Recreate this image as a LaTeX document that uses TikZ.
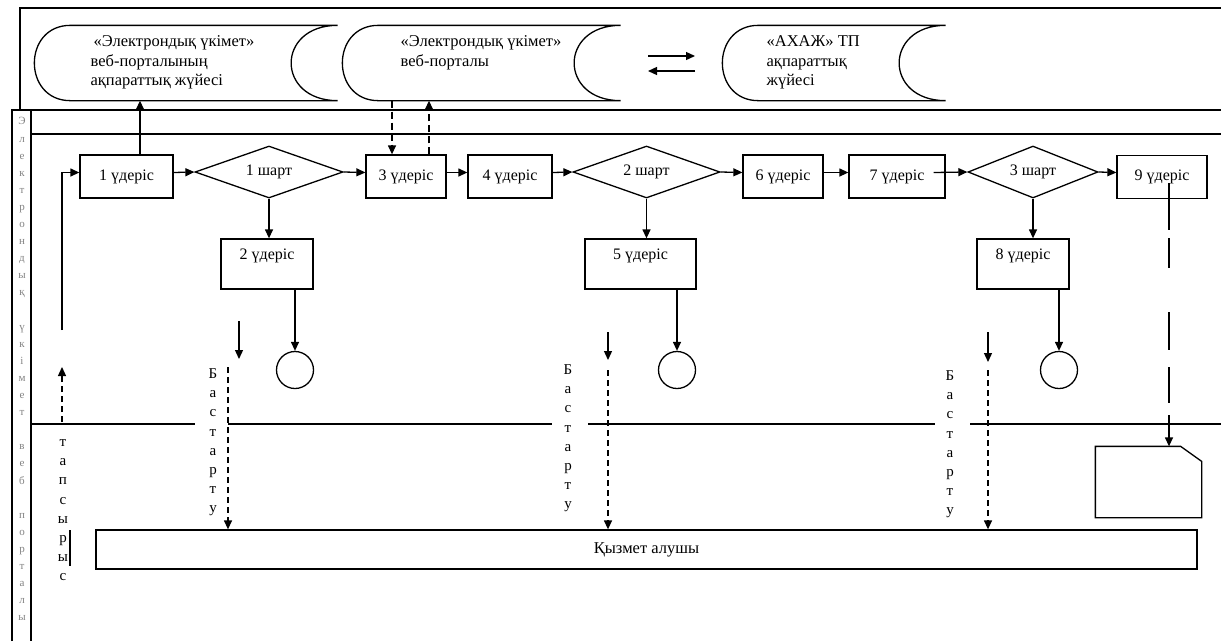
\documentclass[tikz,border=0pt]{standalone}
\usepackage{fontspec}
\setmainfont{Liberation Serif}
\usepackage{xcolor}
\usepackage{tikz}
\usetikzlibrary{calc, shapes.geometric, arrows.meta}

\definecolor{lanegray}{RGB}{130,130,130}

\tikzset{
	process/.style = {draw, rectangle, minimum height = 43pt, inner sep = 2pt, font = \fontsize{16}{18}\selectfont},
	subprocess/.style = {process, minimum height = 50pt, text depth = 20pt},
	condition/.style = {draw, diamond, aspect = 3, minimum height = 52pt, inner sep = 1pt, font = \fontsize{16}{18}\selectfont},
	finish/.style = {draw, circle, minimum size = 37pt, inner sep = 0pt},
	letters/.style = {align = center, inner sep = 0pt, font = \fontsize{15}{19.2}\selectfont},
	storage/.style = {minimum height = 74pt, inner sep = 0pt},
	doc text/.style = {align = left, inner sep = 0pt, font = \fontsize{16.5}{19.5}\selectfont},
}

\newcommand{\storeshape}[1]{%
	\draw ([xshift = 36pt]#1.north west) -- (#1.north east)
		.. controls ([xshift = -62pt]#1.north east) and ([xshift = -62pt]#1.south east) .. (#1.south east)
		-- ([xshift = 36pt]#1.south west)
		.. controls ([xshift = -12pt]#1.south west) and ([xshift = -12pt]#1.north west) .. ([xshift = 36pt]#1.north west) -- cycle;}

\begin{document}
\begin{tikzpicture}[x = 1pt, y = -1pt, line width = 1.3pt, > = {Triangle[length = 9pt, width = 8pt]}]
		\useasboundingbox (0,0) rectangle (1221,641);

		\draw (20,110) -- (20,8) -- (1221,8);
		\draw (12,641) -- (12,110) -- (1221,110);
		\draw (31,110) -- (31,641);
		\draw (31,134) -- (1221,134);
		\draw (31,424) -- (195,424) (228,424) -- (552,424) (588,424) -- (935,424) (970,424) -- (1221,424);

		\node[align = center, inner sep = 0pt, text = lanegray, font = \fontsize{11}{17.1}\selectfont, anchor = north] (lane name) at (22,117) {Э\\л\\е\\к\\т\\р\\о\\н\\д\\ы\\қ\\~\\ү\\к\\і\\м\\е\\т\\~\\в\\е\\б\\~\\п\\о\\р\\т\\а\\л\\ы};

		\node[storage, minimum width = 302pt] (system info) at (186,63) {};
		\node[storage, minimum width = 277pt] (portal) at (481.5,63) {};
		\node[storage, minimum width = 222pt] (registry) at (834,63) {};
		\storeshape{system info}
		\storeshape{portal}
		\storeshape{registry}
		\node[doc text, anchor = north west] (system info text) at (90,35) {\hspace{3pt}«Электрондық үкімет»\\веб-порталының\\ақпараттық жүйесі};
		\node[doc text, anchor = north west] (portal text) at (400,35) {«Электрондық үкімет»\\веб-порталы};
		\node[doc text, anchor = north west] (registry text) at (766,35) {«АХАЖ» ТП\\ақпараттық\\жүйесі};

		\coordinate (exchange left) at (648,56);
		\coordinate (exchange right) at (695,56);
		\draw[->] (exchange left) -- (exchange right);
		\draw[->] ($(exchange right) + (0,15)$) -- ($(exchange left) + (0,15)$);

		\coordinate (flow line) at (0,172.5);
		\node[process, minimum width = 93pt] (process 1) at (126.5,176.5) {1 үдеріс};
		\node[condition, minimum width = 148pt] (condition 1) at (269,172) {1 шарт};
		\node[process, minimum width = 80pt] (process 3) at (406,176.5) {3 үдеріс};
		\node[process, minimum width = 84pt] (process 4) at (510,176.5) {4 үдеріс};
		\node[condition, minimum width = 147pt] (condition 2) at (646.5,172) {2 шарт};
		\node[process, minimum width = 80pt] (process 6) at (783,176.5) {6 үдеріс};
		\node[process, minimum width = 96pt] (process 7) at (897,176.5) {7 үдеріс};
		\node[condition, minimum width = 130pt] (condition 3) at (1033,172) {3 шарт};
		\node[process, minimum width = 90pt] (process 9) at (1162,177) {9 үдеріс};

		\draw[->] (process 1.east |- flow line) -- (condition 1.west);
		\draw[->] (condition 1.east) -- (process 3.west |- flow line);
		\draw[->] (process 3.east |- flow line) -- (process 4.west |- flow line);
		\draw[->] (process 4.east |- flow line) -- (condition 2.west);
		\draw[->] (condition 2.east) -- (process 6.west |- flow line);
		\draw[->] (process 6.east |- flow line) -- (process 7.west |- flow line);
		\draw[->] ($(process 7.east |- flow line) + (-12,0)$) -- (condition 3.west);
		\draw[->] (condition 3.east) -- (process 9.west |- flow line);

		\coordinate (send) at ($(process 1.north) + (13.5,0)$);
		\draw[->] (send) -- (send |- system info.south);
		\coordinate (query) at ($(process 3.north) + (-14,0)$);
		\draw[->, dash pattern = on 7pt off 4pt] (query |- portal.south) -- (query);
		\coordinate (reply) at ($(process 3.north) + (23,0)$);
		\draw[->, dash pattern = on 7pt off 4pt] (reply) -- (reply |- portal.south);

		\node[subprocess, minimum width = 92pt] (process 2) at (267,264) {2 үдеріс};
		\node[subprocess, minimum width = 111pt] (process 5) at (640.5,264) {5 үдеріс};
		\node[subprocess, minimum width = 92pt] (process 8) at (1023,264) {8 үдеріс};
		\draw[->] (condition 1.south) -- (condition 1.south |- process 2.north);
		\draw[->] (condition 2.south) -- (condition 2.south |- process 5.north);
		\draw[->] (condition 3.south) -- (condition 3.south |- process 8.north);

		\node[finish] (end 1) at (295,370) {};
		\node[finish] (end 2) at (677,370) {};
		\node[finish] (end 3) at (1059,370) {};
		\draw[->] (end 1.north |- process 2.south) -- (end 1.north);
		\draw[->] (end 2.north |- process 5.south) -- (end 2.north);
		\draw[->] (end 3.north |- process 8.south) -- (end 3.north);

		\node[draw, minimum width = 1101pt, minimum height = 39pt, font = \fontsize{16.5}{18}\selectfont] (client) at (646.5,549.5) {Қызмет алушы};

		\coordinate (return 1 top) at (239,321);
		\coordinate (return 1 tip) at (239,359);
		\coordinate (return 2 top) at (608,332);
		\coordinate (return 2 tip) at (608,360);
		\coordinate (return 3 top) at (988,332);
		\coordinate (return 3 tip) at (988,362);
		\draw[->] (return 1 top) -- (return 1 tip);
		\draw[->] (return 2 top) -- (return 2 tip);
		\draw[->] (return 3 top) -- (return 3 tip);

		\coordinate (launch 1) at (228,367);
		\coordinate (launch 2) at (608,370);
		\coordinate (launch 3) at (988,370);
		\draw[->, dash pattern = on 6pt off 4pt] (launch 1) -- (launch 1 |- client.north);
		\draw[->, dash pattern = on 6pt off 4pt] (launch 2) -- (launch 2 |- client.north);
		\draw[->, dash pattern = on 6pt off 4pt] (launch 3) -- (launch 3 |- client.north);
		\node[letters, anchor = north] (launch 1 label) at (213,368) {Б\\а\\с\\т\\а\\р\\т\\у};
		\node[letters, anchor = north] (launch 2 label) at (568,364) {Б\\а\\с\\т\\а\\р\\т\\у};
		\node[letters, anchor = north] (launch 3 label) at (950,370) {Б\\а\\с\\т\\а\\р\\т\\у};

		\coordinate (request top) at (62,330);
		\draw[->] (request top) |- (process 1.west |- flow line);
		\coordinate (request tail) at (62,422);
		\coordinate (request tip) at (62,367);
		\draw[->, dash pattern = on 6pt off 4pt] (request tail) -- (request tip);
		\node[letters, anchor = north] (request label) at (63,439) {т\\а\\п\\с\\ы\\р\\ы\\с};
		\draw (70,530) -- (70,566);

		\node[minimum width = 105pt, minimum height = 70pt, inner sep = 0pt] (result) at (1148.5,482) {};
		\draw (result.north west) -- ($(result.north east) + (-21,0)$) -- ($(result.north east) + (0,15)$) -- (result.south east) -- (result.south west) -- cycle;
		\coordinate (issue) at (1169,183);
		\draw[->, dash pattern = on 47pt off 8pt on 30pt off 44pt on 38pt off 17pt on 36pt off 12pt] (issue) -- (issue |- result.north);
	\end{tikzpicture}
\end{document}
